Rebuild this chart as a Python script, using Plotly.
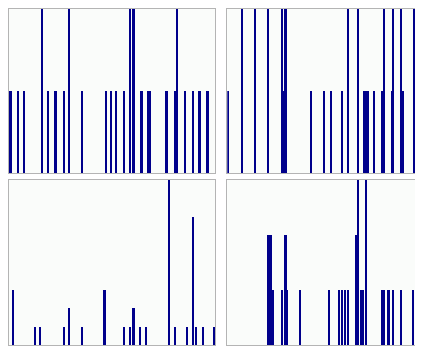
import plotly.graph_objects as go

# Bin indices (of 128 bins) and counts for each panel
tl_bins = [0, 1, 5, 9, 20, 24, 28, 29, 34, 37, 45, 60, 63, 66, 71, 75, 77, 82, 86, 87, 97, 98, 103, 104, 109, 114, 118, 123]
tl_counts = [1, 1, 1, 1, 2, 1, 1, 1, 1, 2, 1, 1, 1, 1, 1, 2, 2, 1, 1, 1, 1, 1, 1, 2, 1, 1, 1, 1]

tr_bins = [0, 9, 17, 25, 34, 35, 36, 52, 60, 64, 71, 75, 81, 85, 86, 87, 91, 96, 97, 102, 103, 108, 109, 116, 118]
tr_counts = [1, 2, 2, 2, 2, 1, 2, 1, 1, 1, 1, 2, 2, 1, 1, 1, 1, 1, 2, 1, 2, 2, 1, 2, 2]

bl_bins = [2, 16, 19, 34, 37, 45, 59, 71, 75, 77, 81, 85, 99, 103, 110, 114, 116, 120, 127]
bl_counts = [3, 1, 1, 1, 2, 1, 3, 1, 1, 2, 1, 1, 9, 1, 1, 7, 1, 1, 1]

br_bins = [25, 26, 27, 28, 34, 36, 37, 45, 63, 69, 71, 73, 75, 80, 81, 83, 84, 86, 96, 97, 100, 103, 108, 115, 118]
br_counts = [2, 2, 2, 1, 1, 2, 1, 1, 1, 1, 1, 1, 1, 2, 3, 1, 1, 3, 1, 1, 1, 1, 1, 1, 2]

panels = [
    (tl_bins, tl_counts, "x", "y"),
    (tr_bins, tr_counts, "x2", "y2"),
    (bl_bins, bl_counts, "x3", "y3"),
    (br_bins, br_counts, "x4", "y4"),
]

BAR = "#00008b"
BG = "#fafcfa"
LINE = "#b4b4b4"

fig = go.Figure()
for b, c, xa, ya in panels:
    fig.add_trace(go.Bar(x=b, y=c, xaxis=xa, yaxis=ya, width=1,
                         marker=dict(color=BAR, line=dict(width=0)),
                         showlegend=False, hoverinfo="x+y"))

# figure sits 8px inside the page (body margin)
W, H = 426, 347
ml, mr, mt, mb = 1, 0, 1, 10
pw = W - ml - mr
ph = H - mt - mb

def xdom(a, b):
    return [(a - ml) / pw, min(1, (b - ml) / pw)]

def ydom(top, bot):
    return [(H - mb - bot) / ph, min(1, (H - mb - top) / ph)]

common = dict(showgrid=False, zeroline=False, showticklabels=False, ticks="",
              showline=True, linecolor=LINE, linewidth=1, mirror=True)

XR = [-0.5, 127.5]

fig.update_layout(
    width=W, height=H,
    margin=dict(l=ml, r=mr, t=mt, b=mb),
    paper_bgcolor="white",
    plot_bgcolor=BG,
    bargap=0,
    xaxis=dict(domain=xdom(1, 207), range=XR, anchor="y", **common),
    yaxis=dict(domain=ydom(1, 165), range=[0, 2], anchor="x", **common),
    xaxis2=dict(domain=xdom(219.3, 425.3), range=XR, anchor="y2", **common),
    yaxis2=dict(domain=ydom(1, 165), range=[0, 2], anchor="x2", **common),
    xaxis3=dict(domain=xdom(1, 207), range=XR, anchor="y3", **common),
    yaxis3=dict(domain=ydom(172, 337), range=[0, 9], anchor="x3", **common),
    xaxis4=dict(domain=xdom(219.3, 425.3), range=XR, anchor="y4", **common),
    yaxis4=dict(domain=ydom(172, 337), range=[0, 3], anchor="x4", **common),
)

fig.write_html("out.html")
